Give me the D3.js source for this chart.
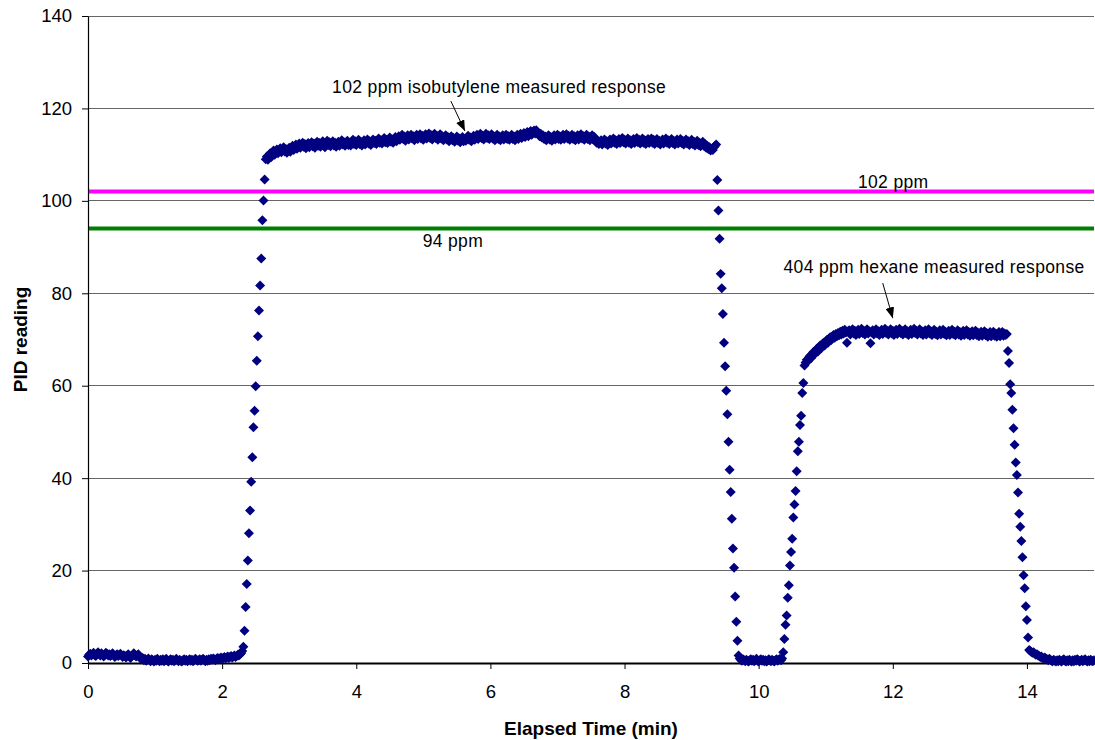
<!DOCTYPE html>
<html><head><meta charset="utf-8">
<script src="https://cdn.jsdelivr.net/npm/d3@7"></script>
<style>body{margin:0;background:#fff}svg{display:block}text{font-family:"Liberation Sans",Arial,sans-serif}</style>
</head><body><svg id="chart" width="1095" height="740"></svg>
<script>
// ---------- data ----------
const xTicks=[0,2,4,6,8,10,12,14];
const yTicks=[0,20,40,60,80,100,120,140];
const xTitle="Elapsed Time (min)";
const yTitle="PID reading";
const sampleIntervalMin=1/60; // one PID reading per second
const referenceValues=[102,94];
const referenceLabels=["102 ppm","94 ppm"];
const annotationTexts=["102 ppm isobutylene measured response","404 ppm hexane measured response"];

const baseline1=[1.4,1.8,2.0,1.6,1.9,2.2,1.7,1.5,2.0,2.3,
1.9,1.6,2.1,1.8,1.4,1.7,2.2,2.0,1.6,1.9,
1.5,1.8,2.1,1.7,1.3,1.6,1.9,1.5,1.8,2.0,
1.6,1.3,1.7,1.5,1.2,1.6,1.9,1.4,1.1,1.5,
1.8,2.1,1.7,1.4,1.6,1.9,1.3,1.0,0.8,1.1,
0.6,0.9,0.5,0.7,1.0,0.6,0.4,0.8,0.6,0.3,
0.7,0.5,0.9,0.6,0.4,0.7,0.5,0.8,0.4,0.6,
0.9,0.5,0.3,0.6,0.8,0.5,0.7,0.4,0.6,0.9,
0.6,0.4,0.7,0.5,0.3,0.6,0.8,0.5,0.7,0.4,
0.6,0.8,0.5,0.7,0.4,0.6,0.9,0.7,0.5,0.6,
0.8,0.5,0.7,0.9,0.6,0.4,0.7,0.5,0.8,0.6,
0.9,0.7,1.0,0.8,0.6,0.9,1.1,0.8,1.0,1.2,
0.9,1.1,1.3,1.0,1.2,1.4,1.1,1.3,1.5,1.2,
1.4,1.6,1.3,1.5,1.8,1.6,1.9,2.1];
const rise1=[2.6,3.5,7.0,12.1,17.1,22.2,28.1,33.0,39.2,44.5,51.0,54.6,59.9,65.4,70.7,76.3,81.7,87.5,95.8,100.1,104.6];
const plateau1=[109.0,109.6,108.9,109.8,110.3,109.5,110.4,110.9,110.0,110.6,
111.1,110.3,110.8,111.4,110.5,111.0,111.6,110.7,111.2,110.4,
110.9,111.5,110.6,111.3,111.9,111.0,111.7,112.2,111.3,111.8,
112.4,111.5,112.0,112.6,111.7,112.3,111.4,111.9,112.5,111.6,
112.1,112.7,111.8,112.4,111.5,112.2,112.8,111.9,112.5,111.7,
112.3,112.9,112.0,111.6,112.4,113.0,112.1,112.7,111.8,112.3,
112.9,112.0,112.6,111.7,112.2,112.8,111.9,112.5,113.1,112.2,
112.7,111.9,112.4,113.0,112.1,112.6,112.0,112.8,113.2,112.3,
112.9,112.1,112.6,113.2,112.3,112.8,112.0,112.5,113.1,112.2,
112.8,113.3,112.4,112.9,112.1,112.7,113.3,112.5,113.0,112.3,
112.9,113.5,112.6,113.1,112.4,113.0,113.6,112.7,113.2,112.5,
113.1,113.7,112.8,113.3,112.6,113.2,113.8,112.9,113.5,114.0,
113.2,113.8,114.3,113.4,113.9,113.0,113.6,114.2,113.3,113.8,
114.3,113.5,114.0,113.1,113.7,114.3,113.4,113.9,114.4,113.5,
114.1,113.2,113.8,114.4,113.5,114.0,114.6,113.6,114.2,113.3,
113.9,114.5,113.6,114.1,113.2,113.8,114.4,113.5,114.0,113.1,
113.7,114.2,113.3,113.8,112.9,113.5,114.0,113.1,113.6,112.8,
113.3,113.9,113.0,113.5,112.7,113.2,113.8,112.9,113.4,113.0,
113.5,114.1,113.2,113.7,112.9,113.5,114.1,113.2,113.8,114.3,
113.4,114.0,114.5,113.6,114.1,113.3,113.9,114.5,113.6,114.2,
113.4,113.9,114.4,113.5,114.0,113.1,113.7,114.3,113.4,113.9,
113.1,113.6,114.2,113.3,113.8,114.3,113.4,114.0,113.2,113.7,
114.3,113.4,113.9,113.1,113.7,114.3,113.4,114.0,114.5,113.6,
114.1,114.7,113.8,114.3,114.9,114.0,114.6,115.1,114.3,114.9,
115.2,114.6,115.3,114.8,114.4,114.0,114.5,113.7,114.2,113.4,
113.9,113.1,113.7,114.2,113.3,113.8,113.0,113.6,114.2,113.3,
113.8,114.3,113.4,114.0,113.2,113.7,114.3,113.4,113.9,114.4,
113.5,114.1,113.2,113.8,114.3,113.4,114.0,113.1,113.7,114.2,
113.3,113.9,114.4,113.5,114.0,113.2,113.8,114.3,113.4,113.9,
113.1,113.7,114.2,113.3,113.8,113.0,112.6,112.9,112.3,112.7,
113.1,112.2,112.8,113.3,112.4,112.9,112.1,112.7,113.3,112.4,
112.9,113.5,112.6,113.1,112.3,112.9,113.4,112.5,113.0,113.6,
112.7,113.2,112.4,112.9,113.5,112.6,113.1,112.3,112.8,113.4,
112.5,113.0,113.6,112.7,113.2,112.4,112.9,113.5,112.6,113.1,
112.3,112.8,113.4,112.5,113.0,113.5,112.6,113.2,112.3,112.9,
113.4,112.5,113.0,112.2,112.8,113.3,112.4,112.9,113.5,112.6,
113.1,112.3,112.8,113.4,112.5,113.0,112.2,112.7,113.3,112.4,
112.9,113.4,112.5,113.0,112.2,112.7,113.3,112.4,112.9,112.1,
112.6,113.2,112.3,112.8,112.0,112.5,113.0,112.1,112.6,111.8,
112.3,112.8,111.9,112.3,111.5,111.9,111.2,111.6,110.9,111.3,
111.0,111.6,111.9,112.2];
const fall1=[104.5,97.9,91.8,84.2,81.1,75.5,69.3,64.2,58.9,53.8,47.9,41.8,37.0,31.2,24.8,20.6,14.4,8.9,4.8];
const baseline2=[1.6,1.0,0.7,0.5,0.8,0.6,0.4,0.7,0.5,0.3,
0.6,0.8,0.5,0.7,0.4,0.6,0.9,0.5,0.3,0.6,
0.8,0.5,0.7,0.4,0.6,0.3,0.5,0.8,0.6,0.4,
0.7,0.5,0.3,0.6,0.8,0.5,0.7,0.9,0.6,1.0];
const rise2=[2.3,5.2,8.3,10.3,14.1,16.8,21.1,24.0,26.9,31.5,34.3,37.2,41.5,45.8,47.9,51.5,53.5,58.4,60.6];
const plateau2=[64.4,65.0,65.6,65.3,66.1,66.5,66.0,66.9,67.3,66.8,
67.6,68.0,67.4,68.3,68.7,68.1,69.0,69.3,68.7,69.6,
69.9,69.3,70.2,70.5,69.9,70.7,71.0,70.4,71.2,70.7,
71.4,70.9,71.7,71.1,71.9,71.3,72.1,71.5,69.3,71.8,
72.0,71.1,71.7,72.2,71.3,71.9,71.0,71.6,72.1,71.2,
71.8,72.3,71.4,71.9,71.1,71.7,72.2,71.3,71.8,69.2,
71.5,72.0,71.1,71.7,72.2,71.3,71.8,71.0,71.6,72.1,
71.2,71.8,72.3,71.4,71.9,71.1,71.7,72.2,71.3,71.9,
71.0,71.6,72.1,71.2,71.7,72.3,71.4,71.9,71.1,71.6,
72.2,71.3,71.8,71.0,71.5,72.1,71.2,71.7,72.3,71.4,
71.9,71.1,71.6,72.2,71.3,71.8,71.0,71.5,72.0,71.1,
71.7,72.2,71.3,71.8,71.0,71.5,72.1,71.2,71.7,70.9,
71.4,72.0,71.1,71.6,72.1,71.2,71.7,70.9,71.4,71.9,
71.0,71.6,72.1,71.2,71.7,70.9,71.4,72.0,71.1,71.6,
70.8,71.3,71.9,71.0,71.5,72.0,71.1,71.6,70.8,71.3,
71.8,70.9,71.4,71.9,71.0,71.5,70.7,71.2,71.7,70.8,
71.3,71.8,70.9,71.4,70.6,71.1,71.6,70.7,71.2,71.7,
70.8,71.3,70.6,71.1,71.6,70.7,71.2,71.6,70.8,71.3,
71.0,71.2];
const fall2=[67.5,64.9,60.3,58.4,54.8,50.8,47.2,43.4,40.7,36.9,32.3,29.5,26.4,22.9,19.0,16.2,12.3,9.3,5.5,2.8];
const tail=[2.6,2.4,2.2,2.3,2.0,1.8,1.9,1.6,1.5,1.3,
1.4,1.1,1.0,1.2,0.9,0.8,0.6,0.9,0.7,0.5,
0.4,0.7,0.5,0.3,0.6,0.4,0.7,0.5,0.3,0.6,
0.8,0.5,0.3,0.6,0.4,0.7,0.5,0.3,0.6,0.4,
0.7,0.5,0.8,0.6,0.3,0.5,0.7,0.4,0.6,0.8,
0.5,0.3,0.6,0.4,0.7,0.5,0.4,0.6];

const pidReading=[].concat(baseline1,rise1,plateau1,fall1,baseline2,rise2,plateau2,fall2,tail);
const points=pidReading.map((v,i)=>({t:i*sampleIntervalMin,v}));

// ---------- drawing ----------
const svg=d3.select("#chart");
svg.append("rect").attr("width",1095).attr("height",740).attr("fill","#fff");
const x=d3.scaleLinear().domain([0,15]).range([88,1094]);
const y=d3.scaleLinear().domain([0,140]).range([663,16]);

// gridlines
svg.append("g").selectAll("line").data(yTicks.filter(d=>d>0)).join("line")
  .attr("x1",x(0)).attr("x2",x(15)).attr("y1",d=>y(d)).attr("y2",d=>y(d))
  .attr("stroke","#666").attr("stroke-width",1).attr("shape-rendering","crispEdges");

// reference lines
const refColors=["#FF00FF","#008000"];
svg.append("g").selectAll("line").data(referenceValues).join("line")
  .attr("x1",x(0)).attr("x2",x(15)).attr("y1",d=>y(d)).attr("y2",d=>y(d))
  .attr("stroke",(d,i)=>refColors[i]).attr("stroke-width",4);

// axes
const yAxis=svg.append("g").attr("transform",`translate(${x(0)},0)`)
  .call(d3.axisLeft(y).tickValues(yTicks).tickSize(6).tickPadding(10).tickSizeOuter(0));
yAxis.select(".domain").attr("stroke","#000").attr("stroke-width",1.2);
yAxis.selectAll(".tick line").attr("stroke","#000");
yAxis.selectAll("text").attr("font-size",18.5).attr("fill","#000").attr("font-family","Liberation Sans, Arial, sans-serif");

const xAxis=svg.append("g").attr("transform",`translate(0,${y(0)})`)
  .call(d3.axisBottom(x).tickValues(xTicks).tickSize(6).tickPadding(16).tickSizeOuter(0));
xAxis.select(".domain").attr("stroke","#000").attr("stroke-width",2);
xAxis.selectAll(".tick line").attr("stroke","#000");
xAxis.selectAll("text").attr("font-size",18.5).attr("fill","#000").attr("font-family","Liberation Sans, Arial, sans-serif");

// markers
const diamond=d3.symbol().type(d3.symbolSquare).size(50);
svg.append("g").selectAll("path").data(points).join("path")
  .attr("d",diamond)
  .attr("transform",d=>`translate(${x(d.t)},${y(d.v)}) rotate(45)`)
  .attr("fill","#000080");

// axis titles
svg.append("text").attr("x",(x(0)+x(15))/2).attr("y",735).attr("text-anchor","middle")
  .attr("font-size",19).attr("font-weight","bold").text(xTitle);
svg.append("text").attr("transform",`translate(27,${(y(0)+y(140))/2}) rotate(-90)`).attr("text-anchor","middle")
  .attr("font-size",19).attr("font-weight","bold").text(yTitle);

// reference labels
const refLabelPos=[[11.48,102.75],[4.99,90.0]];
svg.append("g").selectAll("text").data(referenceLabels).join("text")
  .attr("x",(d,i)=>x(refLabelPos[i][0])).attr("y",(d,i)=>y(refLabelPos[i][1]))
  .attr("font-size",17.5).attr("letter-spacing",0.35).text(d=>d);

// annotations with arrows
svg.append("defs").append("marker").attr("id","arrow").attr("markerUnits","userSpaceOnUse")
  .attr("viewBox","0 0 10 8").attr("refX",10).attr("refY",4).attr("markerWidth",11).attr("markerHeight",9)
  .attr("orient","auto").append("path").attr("d","M0,0L10,4L0,8Z").attr("fill","#000");
const annTextPos=[[3.64,123.3],[10.37,84.3]];
const annArrow=[[5.41,121.6,5.62,115.1],[11.85,82.2,12.0,74.6]];
svg.append("g").selectAll("text").data(annotationTexts).join("text")
  .attr("x",(d,i)=>x(annTextPos[i][0])).attr("y",(d,i)=>y(annTextPos[i][1]))
  .attr("font-size",17.5).attr("letter-spacing",0.35).text(d=>d);
svg.append("g").selectAll("line").data(annArrow).join("line")
  .attr("x1",d=>x(d[0])).attr("y1",d=>y(d[1])).attr("x2",d=>x(d[2])).attr("y2",d=>y(d[3]))
  .attr("stroke","#000").attr("stroke-width",1).attr("marker-end","url(#arrow)");
</script></body></html>
